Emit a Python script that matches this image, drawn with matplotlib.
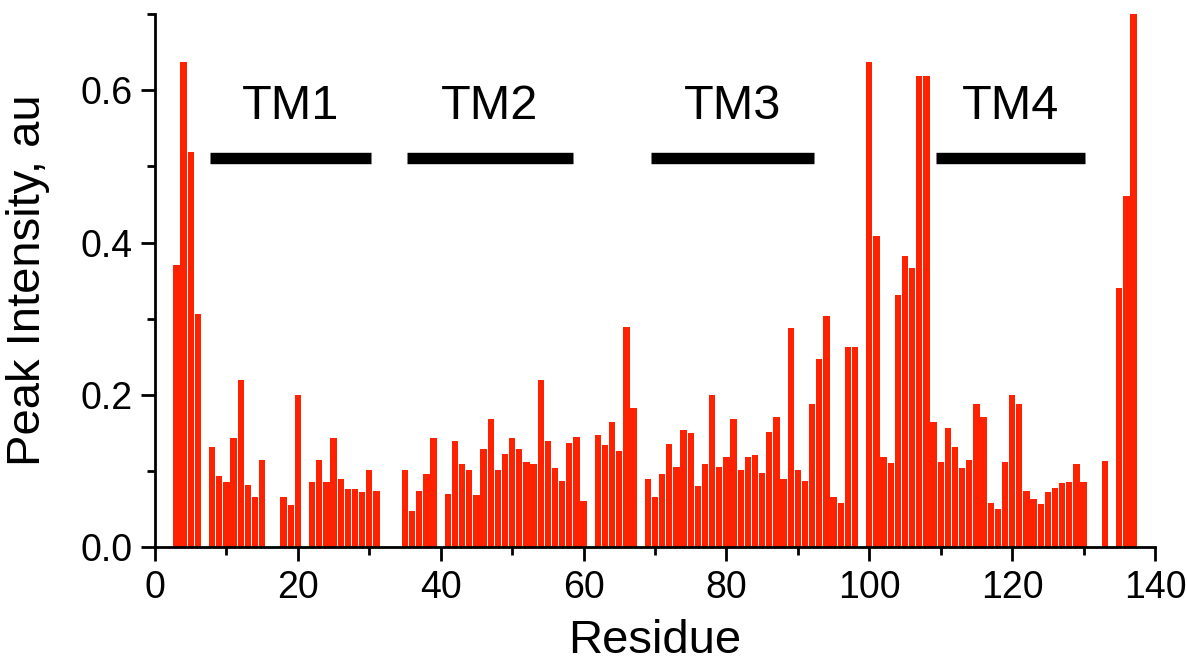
import matplotlib
matplotlib.use("Agg")
import matplotlib.pyplot as plt
from matplotlib.ticker import MultipleLocator

plt.rcParams['font.family'] = ['Liberation Sans', 'DejaVu Sans']

residues = [3, 4, 5, 6, 8, 9, 10, 11, 12, 13, 14, 15, 18, 19, 20, 22, 23, 24, 25, 26,
            27, 28, 29, 30, 31, 35, 36, 37, 38, 39, 41, 42, 43, 44, 45, 46, 47, 48, 49, 50,
            51, 52, 53, 54, 55, 56, 57, 58, 59, 60, 62, 63, 64, 65, 66, 67, 69, 70, 71, 72,
            73, 74, 75, 76, 77, 78, 79, 80, 81, 82, 83, 84, 85, 86, 87, 88, 89, 90, 91, 92,
            93, 94, 95, 96, 97, 98, 100, 101, 102, 103, 104, 105, 106, 107, 108, 109, 110,
            111, 112, 113, 114, 115, 116, 117, 118, 119, 120, 121, 122, 123, 124, 125, 126,
            127, 128, 129, 130, 133, 135, 136, 137]

intensity = [0.370, 0.637, 0.519, 0.306, 0.132, 0.094, 0.086, 0.143, 0.220, 0.082,
             0.066, 0.115, 0.066, 0.055, 0.200, 0.086, 0.115, 0.086, 0.143, 0.090,
             0.076, 0.077, 0.072, 0.101, 0.074, 0.101, 0.047, 0.074, 0.096, 0.143,
             0.070, 0.139, 0.109, 0.101, 0.068, 0.129, 0.169, 0.101, 0.123, 0.143,
             0.129, 0.112, 0.109, 0.220, 0.140, 0.104, 0.087, 0.137, 0.145, 0.061,
             0.147, 0.134, 0.164, 0.127, 0.289, 0.183, 0.089, 0.066, 0.096, 0.136,
             0.105, 0.154, 0.150, 0.080, 0.109, 0.200, 0.105, 0.118, 0.169, 0.101,
             0.118, 0.121, 0.098, 0.151, 0.171, 0.089, 0.288, 0.101, 0.087, 0.188,
             0.247, 0.304, 0.066, 0.058, 0.263, 0.263, 0.637, 0.408, 0.118, 0.110,
             0.331, 0.382, 0.366, 0.619, 0.619, 0.165, 0.112, 0.157, 0.131, 0.104,
             0.115, 0.188, 0.171, 0.058, 0.050, 0.112, 0.200, 0.188, 0.074, 0.063,
             0.057, 0.072, 0.078, 0.085, 0.086, 0.109, 0.086, 0.113, 0.341, 0.461,
             0.700]

tm_labels = ["TM1", "TM2", "TM3", "TM4"]
tm_start = [7.7, 35.3, 69.4, 109.3]
tm_end = [30.2, 58.5, 92.3, 130.2]
tm_level = 0.511
label_level = 0.578

fig = plt.figure(figsize=(11.87, 6.65), dpi=100)
ax = fig.add_axes([155 / 1187, (665 - 547.3) / 665, 1000 / 1187, (547.3 - 14) / 665])

ax.bar(residues, intensity, width=0.88, color='#ff2200', linewidth=0)

for lab, s, e in zip(tm_labels, tm_start, tm_end):
    ax.hlines(tm_level, s, e, colors='black', linewidth=8.2)
    ax.text((s + e) / 2, label_level, lab, ha='center', va='center', fontsize=35)

ax.set_xlim(0, 140)
ax.set_ylim(0, 0.70)
ax.xaxis.set_major_locator(MultipleLocator(20))
ax.xaxis.set_minor_locator(MultipleLocator(10))
ax.yaxis.set_minor_locator(MultipleLocator(0.1))
ax.set_yticks([0.0, 0.2, 0.4, 0.6])
ax.set_yticklabels(["0.0", "0.2", "0.4", "0.6"])

for side in ['top', 'right']:
    ax.spines[side].set_visible(False)
for side in ['left', 'bottom']:
    ax.spines[side].set_linewidth(2.0)

ax.tick_params(axis='both', which='major', direction='out', length=10, width=2.0,
               labelsize=27, pad=6)
ax.tick_params(axis='both', which='minor', direction='out', length=5.5, width=2.0)

ax.set_xlabel("Residue", fontsize=34, labelpad=10)
ax.set_ylabel("Peak Intensity, au", fontsize=34, labelpad=22)

fig.savefig("out.png", dpi=100)
